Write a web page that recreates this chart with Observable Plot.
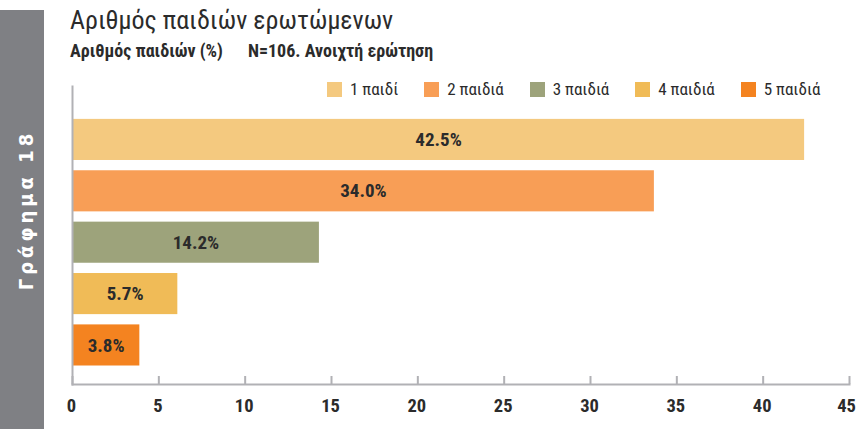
<!DOCTYPE html>
<html><head><meta charset="utf-8">
<script src="https://cdn.jsdelivr.net/npm/d3@7"></script>
<script src="https://cdn.jsdelivr.net/npm/@observablehq/plot@0.6"></script>
<style>
body{margin:0;background:#fff;}
#wrap{position:relative;width:856px;height:429px;overflow:hidden;font-family:"Roboto Condensed","Liberation Sans Narrow","DejaVu Sans Condensed",Roboto,sans-serif;font-stretch:condensed;color:#2b2b2b;}
#wrap svg{position:absolute;left:0;top:0;}
#side{position:absolute;left:0;top:10px;width:44px;height:419px;background:#7f8084;}
#side span{position:absolute;left:26px;top:200px;transform:translate(-50%,-50%) rotate(-90deg);color:#fff;font-weight:bold;font-size:20px;letter-spacing:4px;white-space:nowrap;font-family:"DejaVu Sans",sans-serif;}
#title{position:absolute;left:70px;top:5px;font-size:26px;line-height:30px;white-space:nowrap;color:#2b2b2b;}
#subtitle{position:absolute;left:70px;top:40px;font-size:18px;line-height:22px;font-weight:bold;white-space:nowrap;color:#2b2b2b;}
#subtitle .gap{display:inline-block;width:25px;}
#legend{position:absolute;left:327px;top:81px;display:flex;gap:26px;font-size:17px;line-height:17px;white-space:nowrap;}
#legend .item{display:flex;align-items:center;}
#legend .sw{width:15px;height:15px;margin-right:8px;}
</style>
</head><body>
<div id="wrap">
  <div id="side"><span>Γράφημα 18</span></div>
  <div id="title">Αριθμός παιδιών ερωτώμενων</div>
  <div id="subtitle">Αριθμός παιδιών (%)<span class="gap"></span>N=106. Ανοιχτή ερώτηση</div>
  <div id="legend"></div>
</div>
<script>
const categories = ["1 παιδί", "2 παιδιά", "3 παιδιά", "4 παιδιά", "5 παιδιά"];
const barLengths = [42.4, 33.7, 14.3, 6.1, 3.9];
const valueLabels = ["42.5%", "34.0%", "14.2%", "5.7%", "3.8%"];
const colors = ["#F4C97F", "#F89E56", "#9DA37B", "#F0BB57", "#F48320"];
const xTicks = [0, 5, 10, 15, 20, 25, 30, 35, 40, 45];

const data = categories.map((c, i) => ({cat: c, v: barLengths[i], label: valueLabels[i]}));
const fontStack = '"Roboto Condensed","Liberation Sans Narrow","DejaVu Sans Condensed",Roboto,sans-serif';
const axisColor = "#b1b1b5";
const tickLabelStyle = {label: null, tickSize: 0, tickPadding: 14, fontSize: 18.5, fontWeight: "bold", fill: "#2b2b2b", fontFamily: fontStack};
const lastTick = xTicks[xTicks.length - 1];

const chart = Plot.plot({
  width: 856,
  height: 429,
  marginLeft: 72,
  marginRight: 7,
  marginTop: 86,
  marginBottom: 45,
  style: {background: "transparent", fontFamily: fontStack, overflow: "visible"},
  x: {domain: [0, 45], axis: null, label: null},
  y: {domain: categories, paddingInner: 0.2, paddingOuter: 0.5, align: 0.64, round: false, axis: null},
  color: {domain: categories, range: colors},
  marks: [
    Plot.barX(data, {x: "v", y: "cat", fill: "cat"}),
    Plot.text(data, {x: d => d.v / 2, y: "cat", text: "label", fontSize: 19, fontWeight: "bold", fill: "#2b2b2b", fontFamily: fontStack}),
    Plot.frame({anchor: "bottom", stroke: axisColor, strokeWidth: 2}),
    Plot.frame({anchor: "left", stroke: axisColor, strokeWidth: 2}),
    Plot.tickX(xTicks, {x: d => d, stroke: axisColor, strokeWidth: 2, insetTop: 290}),
    Plot.axisX({...tickLabelStyle, ticks: xTicks.filter(t => t !== lastTick), dx: -1}),
    Plot.axisX({...tickLabelStyle, ticks: [lastTick], dx: -3})
  ]
});
document.getElementById("wrap").insertBefore(chart, document.getElementById("side"));

const legend = d3.select("#legend");
categories.forEach((c, i) => {
  const it = legend.append("div").attr("class", "item");
  it.append("div").attr("class", "sw").style("background", colors[i]);
  it.append("span").text(c);
});
</script>
</body></html>
